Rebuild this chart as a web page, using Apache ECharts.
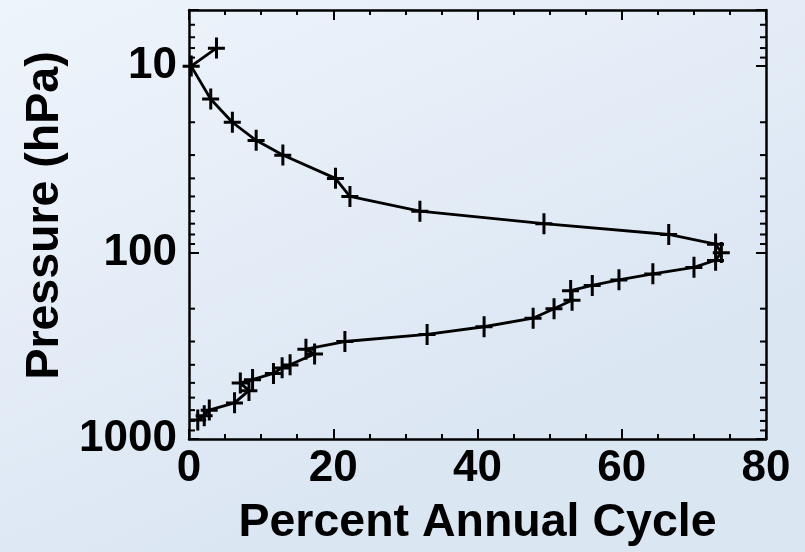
<!DOCTYPE html>
<html>
<head>
<meta charset="utf-8">
<style>
  html, body { margin: 0; padding: 0; }
  #chart { width: 805px; height: 552px; }
</style>
<script src="https://cdn.jsdelivr.net/npm/echarts@6/dist/echarts.min.js"></script>
</head>
<body>
<div id="chart"></div>
<script>
// Vertical profile of the annual-cycle amplitude (percent) against pressure (hPa)
const pressure = [8, 10, 15, 20, 25, 30, 40, 50, 60, 70, 80, 90, 100, 110, 120, 130, 140, 150, 160, 180,
                  200, 225, 250, 275, 300, 330, 350, 400, 415, 445, 480, 500, 550, 640, 700, 750, 790];
const percent  = [3.8, 0.3, 3.0, 6.0, 9.3, 13.0, 20.3, 22.3, 32.0, 49.2, 66.5, 73.0, 73.8, 73.0, 70.0, 64.3, 59.6, 55.9, 52.9, 53.1,
                  50.6, 47.7, 40.9, 33.0, 21.6, 16.2, 17.4, 14.0, 12.9, 11.7, 8.8, 7.1, 8.3, 6.3, 2.8, 2.1, 1.2];

const xTicks = [0, 20, 40, 60, 80];
const yLabelled = [10, 100, 1000];
const yMinorTicks = [6, 7, 8, 9, 20, 30, 40, 50, 60, 70, 80, 90, 200, 300, 400, 500, 600, 700, 800, 900];

const FONT = '"Liberation Sans", Arial, Helvetica, sans-serif';
const X_MIN = xTicks[0], X_MAX = xTicks[xTicks.length - 1];
const P_MIN = 5, P_MAX = 1000;

const chart = echarts.init(document.getElementById('chart'), null, { renderer: 'canvas' });

const tickStyle = { color: '#000', width: 2 };
const frameLine = { show: true, onZero: false, lineStyle: { color: '#000', width: 2.5 } };

// plus-shaped marker, filled
const plusPath = 'path://M7.1,0 H10.1 V9.1 H17 V12.1 H10.1 V21 H7.1 V12.1 H0 V9.1 H7.1 Z';

chart.setOption({
  backgroundColor: {
    type: 'linear', x: 0, y: 0, x2: 0.3, y2: 1,
    colorStops: [{ offset: 0, color: '#eef4fb' }, { offset: 1, color: '#dbe6f3' }]
  },
  animation: false,
  grid: { left: 189, top: 10, width: 577, height: 429, containLabel: false },
  xAxis: [
    {
      type: 'value', position: 'bottom', min: X_MIN, max: X_MAX, interval: 20,
      axisLine: frameLine,
      axisTick: { show: true, inside: true, length: 10, lineStyle: tickStyle },
      minorTick: { show: true, splitNumber: 4, length: 5, lineStyle: tickStyle },
      splitLine: { show: false },
      axisLabel: { show: true, margin: 8, color: '#000', fontFamily: FONT, fontWeight: 'bold', fontSize: 44 },
      name: 'Percent Annual Cycle', nameLocation: 'middle', nameGap: 61,
      nameTextStyle: { color: '#000', fontFamily: FONT, fontWeight: 'bold', fontSize: 46.5 }
    },
    {
      type: 'value', position: 'top', min: X_MIN, max: X_MAX, interval: 20,
      axisLine: frameLine,
      axisTick: { show: true, inside: true, length: 10, lineStyle: tickStyle },
      minorTick: { show: true, splitNumber: 4, length: 5, lineStyle: tickStyle },
      splitLine: { show: false },
      axisLabel: { show: false }
    }
  ],
  yAxis: [
    {
      type: 'log', logBase: 10, position: 'left', min: P_MIN, max: P_MAX, inverse: true,
      axisLine: frameLine,
      axisTick: { show: true, inside: true, length: 10, lineStyle: tickStyle },
      splitLine: { show: false },
      axisLabel: {
        show: true, margin: 12, color: '#000', fontFamily: FONT, fontWeight: 'bold', fontSize: 44,
        formatter: v => (yLabelled.indexOf(Math.round(v)) >= 0 ? String(Math.round(v)) : '')
      },
      name: 'Pressure (hPa)', nameLocation: 'middle', nameGap: 119,
      nameTextStyle: { color: '#000', fontFamily: FONT, fontWeight: 'bold', fontSize: 46.5, padding: [0, 0, 0, 18] }
    },
    {
      type: 'log', logBase: 10, position: 'right', min: P_MIN, max: P_MAX, inverse: true,
      axisLine: frameLine,
      axisTick: { show: true, inside: true, length: 10, lineStyle: tickStyle },
      splitLine: { show: false },
      axisLabel: { show: false }
    }
  ],
  series: [
    {
      // minor log ticks on the left and right frame edges
      type: 'custom',
      xAxisIndex: 0, yAxisIndex: 0,
      silent: true,
      data: yMinorTicks.map(p => [X_MIN, p]),
      encode: { x: 0, y: 1 },
      renderItem: function (params, api) {
        const p = api.value(1);
        const l = api.coord([X_MIN, p]);
        const r = api.coord([X_MAX, p]);
        return {
          type: 'group',
          children: [
            { type: 'line', shape: { x1: l[0], y1: l[1], x2: l[0] + 6, y2: l[1] }, style: { stroke: '#000', lineWidth: 2 } },
            { type: 'line', shape: { x1: r[0] - 6, y1: r[1], x2: r[0], y2: r[1] }, style: { stroke: '#000', lineWidth: 2 } }
          ]
        };
      }
    },
    {
      type: 'line',
      xAxisIndex: 0, yAxisIndex: 0,
      data: pressure.map((p, i) => [percent[i], p]),
      showAllSymbol: true,
      symbol: plusPath,
      symbolSize: [17, 21],
      lineStyle: { color: '#000', width: 2.8 },
      itemStyle: { color: '#000', borderWidth: 0 },
      clip: true,
      z: 3
    }
  ]
});
</script>
</body>
</html>
